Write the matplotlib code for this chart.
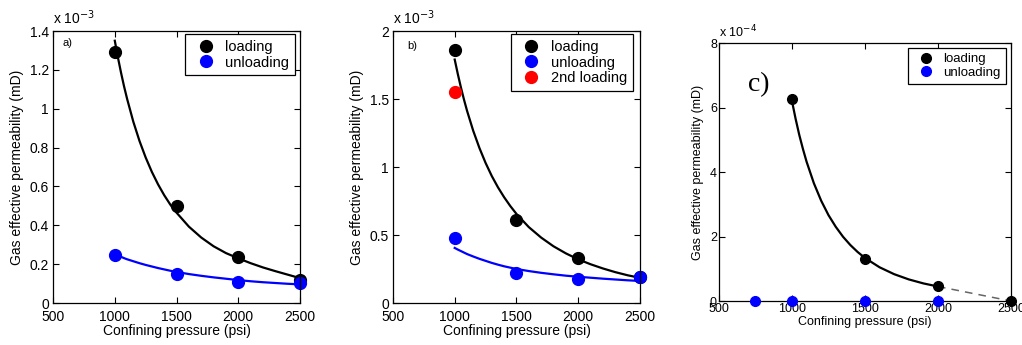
import matplotlib.pyplot as plt
from matplotlib.ticker import FormatStrFormatter

plt.rcParams['font.family'] = ['Liberation Sans', 'DejaVu Sans']

# measured points (permeability in mD)
pressure = [1000, 1500, 2000, 2500]
a_loading = [1.29e-3, 0.50e-3, 0.235e-3, 0.12e-3]
a_unloading = [0.245e-3, 0.15e-3, 0.11e-3, 0.105e-3]

b_loading = [1.86e-3, 0.61e-3, 0.33e-3, 0.19e-3]
b_unloading = [0.48e-3, 0.22e-3, 0.18e-3, 0.19e-3]
b_2nd_pressure = [1000]
b_2nd_loading = [1.55e-3]

c_load_pressure = [1000, 1500, 2000, 2500]
c_loading = [6.25e-4, 1.30e-4, 0.47e-4, 0.0]
c_unload_pressure = [750, 1000, 1500, 2000]
c_unloading = [0.0, 0.0, 0.0, 0.0]

# fitted curves (a, b in 1e-3 mD; c in 1e-4 mD)
fit_p = [1000, 1025, 1050, 1075, 1100, 1150, 1200, 1250, 1300, 1350, 1400, 1450,
         1500, 1600, 1700, 1800, 1900, 2000, 2100, 2200, 2300, 2400, 2500]
a_fit_load = [1.35, 1.265, 1.187, 1.115, 1.050, 0.933, 0.834, 0.749, 0.675, 0.611, 0.555, 0.506,
              0.465, 0.393, 0.337, 0.292, 0.257, 0.230, 0.205, 0.183, 0.164, 0.146, 0.128]
a_fit_unload = [0.25, 0.244, 0.238, 0.231, 0.225, 0.215, 0.205, 0.196, 0.188, 0.180, 0.173, 0.166,
                0.160, 0.149, 0.140, 0.132, 0.125, 0.118, 0.112, 0.107, 0.103, 0.099, 0.096]
b_fit_load = [1.79, 1.684, 1.586, 1.496, 1.413, 1.266, 1.140, 1.030, 0.934, 0.851, 0.778, 0.713,
              0.655, 0.558, 0.481, 0.417, 0.365, 0.321, 0.285, 0.254, 0.227, 0.204, 0.185]
b_fit_unload = [0.405, 0.393, 0.382, 0.371, 0.36, 0.342, 0.325, 0.31, 0.295, 0.282, 0.27, 0.26,
                0.25, 0.235, 0.222, 0.211, 0.201, 0.193, 0.186, 0.179, 0.173, 0.167, 0.162]
c_fit_p = [1000, 1025, 1050, 1075, 1100, 1150, 1200, 1250, 1300, 1350, 1400, 1450,
           1500, 1600, 1700, 1800, 1900, 2000]
c_fit_load = [6.2, 5.647, 5.15, 4.716, 4.32, 3.652, 3.11, 2.664, 2.30, 1.991, 1.735, 1.519,
              1.335, 1.046, 0.832, 0.670, 0.546, 0.45]
c_dash_p = [2000, 2500]
c_dash = [0.45, 0.0]

BLUE = '#0000ff'
RED = '#ff0000'


def style_axes(ax, ylim, yticks, fs):
    ax.set_xlim(500, 2500)
    ax.set_ylim(*ylim)
    ax.set_xticks([500, 1000, 1500, 2000, 2500])
    ax.set_yticks(yticks)
    ax.yaxis.set_major_formatter(FormatStrFormatter('%g'))
    ax.tick_params(direction='in', top=True, right=True, length=4, labelsize=fs)
    ax.tick_params(axis='x', pad=5)
    ax.tick_params(axis='y', pad=3)
    for s in ax.spines.values():
        s.set_linewidth(0.9)


def add_legend(ax, anchor, fs, spacing, hl, htp):
    leg = ax.legend(loc='upper right', bbox_to_anchor=anchor, borderaxespad=0, fontsize=fs,
                    fancybox=False, edgecolor='black', framealpha=1, borderpad=0.4,
                    labelspacing=spacing, handlelength=hl, handletextpad=htp)
    leg.get_frame().set_linewidth(0.9)


fig = plt.figure(figsize=(10.22, 3.45), dpi=100)

# ---- panel a
ax = fig.add_axes([0.0519, 0.1217, 0.2417, 0.7884])
ax.plot(fit_p, a_fit_load, color='black', lw=1.6)
ax.plot(fit_p, a_fit_unload, color=BLUE, lw=1.6)
ax.plot(pressure, [v * 1e3 for v in a_loading], 'o', color='black', ms=8.5, label='loading', clip_on=False)
ax.plot(pressure, [v * 1e3 for v in a_unloading], 'o', color=BLUE, ms=8.5, label='unloading', clip_on=False)
style_axes(ax, (0, 1.4), [0, 0.2, 0.4, 0.6, 0.8, 1, 1.2, 1.4], 10)
ax.set_xlabel('Confining pressure (psi)', fontsize=10, labelpad=0)
ax.set_ylabel('Gas effective permeability (mD)', fontsize=10, labelpad=4)
ax.text(0.0, 1.015, r'x 10$^{-3}$', transform=ax.transAxes, fontsize=10, va='bottom')
ax.text(0.04, 0.955, 'a)', transform=ax.transAxes, fontsize=8, va='center')
add_legend(ax, (0.98, 0.989), 10.5, 0.12, 2.0, 0.35)

# ---- panel b
ax = fig.add_axes([0.3845, 0.1217, 0.2417, 0.7884])
ax.plot(fit_p, b_fit_load, color='black', lw=1.6)
ax.plot(fit_p, b_fit_unload, color=BLUE, lw=1.6)
ax.plot(pressure, [v * 1e3 for v in b_loading], 'o', color='black', ms=8.5, label='loading', clip_on=False)
ax.plot(pressure, [v * 1e3 for v in b_unloading], 'o', color=BLUE, ms=8.5, label='unloading', clip_on=False)
ax.plot(b_2nd_pressure, [v * 1e3 for v in b_2nd_loading], 'o', color=RED, ms=8.5, label='2nd loading', clip_on=False)
style_axes(ax, (0, 2), [0, 0.5, 1, 1.5, 2], 10)
ax.set_xlabel('Confining pressure (psi)', fontsize=10, labelpad=0)
ax.set_ylabel('Gas effective permeability (mD)', fontsize=10, labelpad=4)
ax.text(0.0, 1.015, r'x 10$^{-3}$', transform=ax.transAxes, fontsize=10, va='bottom')
ax.text(0.06, 0.945, 'b)', transform=ax.transAxes, fontsize=8, va='center')
add_legend(ax, (0.972, 0.989), 10.5, 0.12, 2.0, 0.35)

# ---- panel c
ax = fig.add_axes([0.7035, 0.1275, 0.2857, 0.7478])
ax.plot(c_fit_p, c_fit_load, color='black', lw=1.6)
ax.plot(c_dash_p, c_dash, color='#666666', lw=1.1, ls=(0, (5, 4)))
ax.plot(c_load_pressure, [v * 1e4 for v in c_loading], 'o', color='black', ms=7, label='loading', clip_on=False, zorder=5)
ax.plot(c_unload_pressure, [v * 1e4 for v in c_unloading], 'o', color=BLUE, ms=7, label='unloading', clip_on=False, zorder=5)
style_axes(ax, (0, 8), [0, 2, 4, 6, 8], 9)
ax.tick_params(axis='both', pad=1.5)
ax.set_xlabel('Confining pressure (psi)', fontsize=9, labelpad=1)
ax.set_ylabel('Gas effective permeability (mD)', fontsize=9, labelpad=4)
ax.text(0.0, 1.01, r'x 10$^{-4}$', transform=ax.transAxes, fontsize=9, va='bottom')
ax.text(0.1, 0.84, 'c)', transform=ax.transAxes, fontsize=20, va='center',
        family=['Liberation Serif', 'DejaVu Serif'])
add_legend(ax, (0.983, 0.981), 9.5, 0.08, 1.9, 0.4)

fig.savefig('out.png', dpi=100)
